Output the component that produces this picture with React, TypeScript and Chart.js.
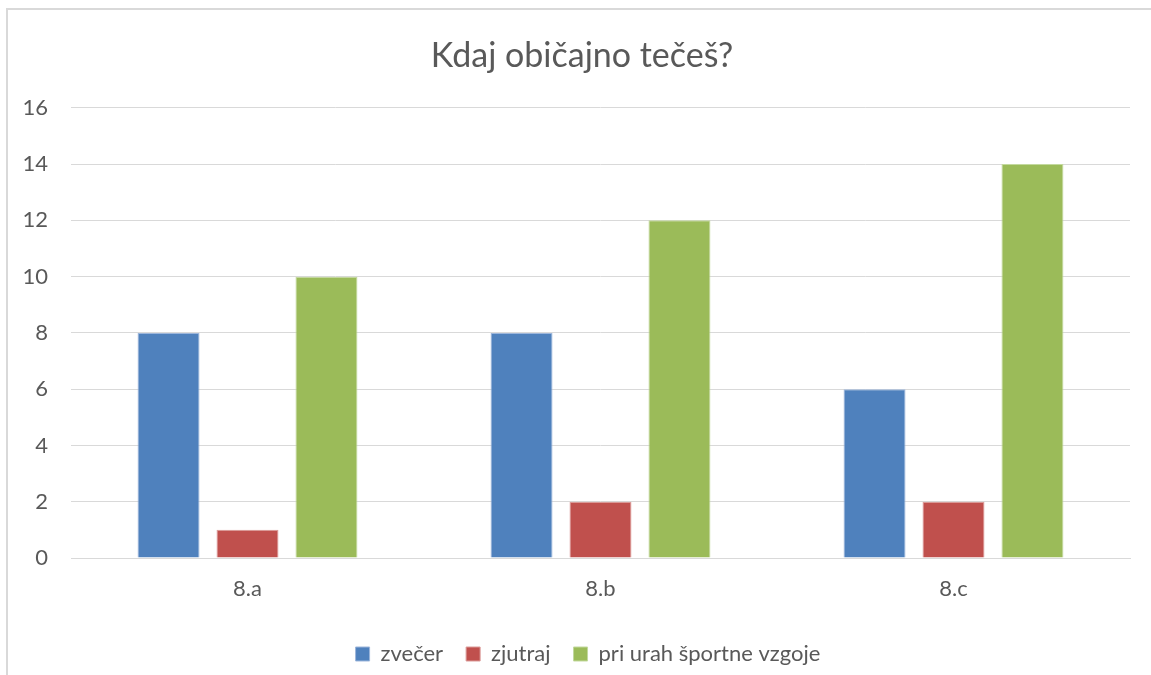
import React, { useEffect, useRef } from "react";
import { Chart, registerables } from "chart.js";

Chart.register(...registerables);

const categories = ["8.a", "8.b", "8.c"];
const seriesNames = ["zvečer", "zjutraj", "pri urah športne vzgoje"];
const zvecer = [8, 8, 6];
const zjutraj = [1, 2, 2];
const sportna = [10, 12, 14];
const colors = ["#4F81BD", "#C0504D", "#9BBB59"];
const borders = ["#9DB6DB", "#DB9A98", "#C3D99E"];
const titleText = "Kdaj običajno tečeš?";

const shiftBlocks = {
  id: "shiftBlocks",
  afterLayout(chart: any) {
    const t = chart.titleBlock;
    if (t) {
      t.left += 17;
      t.right += 17;
    }
    const l = chart.legend;
    if (l) {
      l.left += 23;
      l.right += 23;
    }
  },
};

export default function App() {
  const ref = useRef<HTMLCanvasElement | null>(null);
  useEffect(() => {
    if (!ref.current) return;
    const font = "Lato, 'Open Sans', sans-serif";
    const data = [zvecer, zjutraj, sportna];
    const chart = new Chart(ref.current, {
      type: "bar",
      data: {
        labels: categories,
        datasets: seriesNames.map((n, i) => ({
          label: n,
          data: data[i],
          backgroundColor: colors[i],
          borderColor: borders[i],
          borderWidth: 1,
          categoryPercentage: 0.671,
          barPercentage: 0.785,
        })),
      },
      plugins: [shiftBlocks],
      options: {
        animation: false,
        responsive: false,
        maintainAspectRatio: false,
        layout: { padding: { left: 0, right: 21, top: 36, bottom: 0 } },
        plugins: {
          title: {
            display: true,
            text: titleText,
            color: "#595959",
            font: { family: font, size: 34, weight: "normal" },
            padding: { top: 0, bottom: 31 },
          },
          legend: {
            position: "bottom",
            labels: {
              color: "#595959",
              font: { family: font, size: 22 },
              boxWidth: 14,
              boxHeight: 14,
              padding: 23,
            },
          },
          tooltip: { enabled: false },
        },
        scales: {
          x: {
            grid: { display: false },
            border: { color: "#D9D9D9", width: 1 },
            ticks: { color: "#595959", font: { family: font, size: 22 }, padding: 10 },
            afterFit: (s: any) => {
              s.height = 62;
            },
          },
          y: {
            min: 0,
            max: 16,
            ticks: { stepSize: 2, color: "#595959", font: { family: font, size: 22 }, padding: 23 },
            grid: { color: "#D9D9D9", drawTicks: false },
            border: { display: false },
            afterFit: (s: any) => {
              s.width = 71;
            },
          },
        },
      },
    });
    return () => chart.destroy();
  }, []);
  return (
    <div style={{ position: "fixed", left: 0, top: 0, width: 1151, height: 675, overflow: "hidden", background: "#fff" }}>
      <div style={{ position: "absolute", left: 6, top: 8, width: 1200, height: 800, border: "2px solid #D9D9D9" }} />
      <canvas ref={ref} width={1151} height={675} style={{ position: "absolute", left: 0, top: 0 }} />
    </div>
  );
}
